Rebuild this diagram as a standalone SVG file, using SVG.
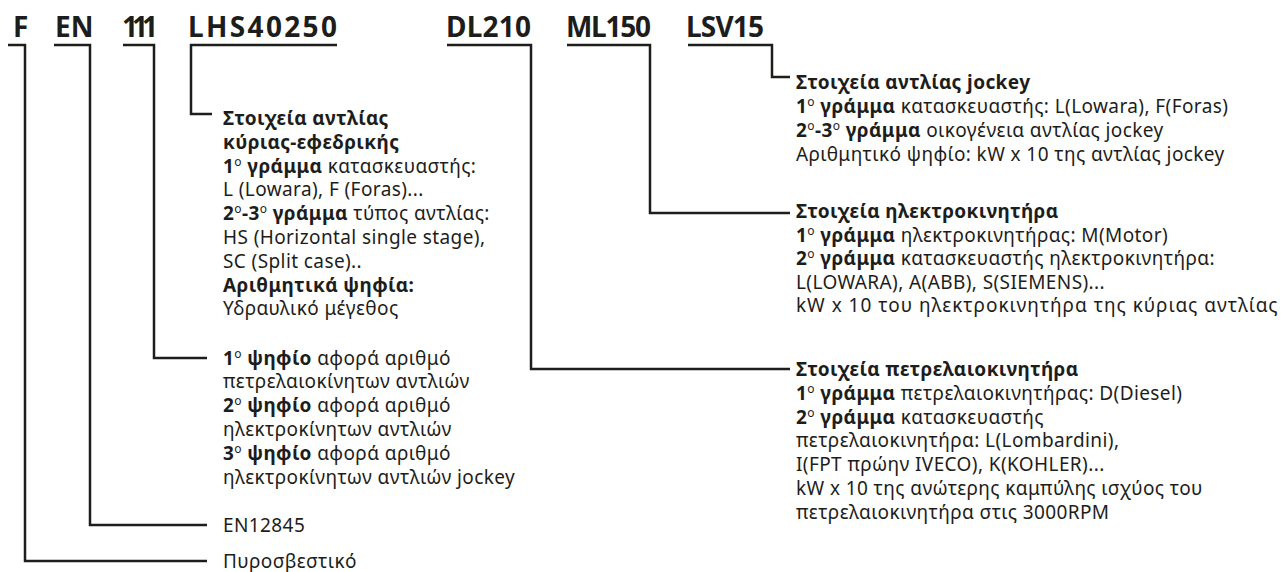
<svg xmlns="http://www.w3.org/2000/svg" width="1283" height="572" viewBox="0 0 1283 572">
<style>
text{font-family:"Noto Sans","DejaVu Sans",sans-serif;fill:#1d1d1b;font-size:19px;letter-spacing:0.4px}
.h{font-size:28px;font-weight:700;letter-spacing:0}
.b{font-weight:700}
.s{font-size:12px;font-weight:400}
.c{fill:none;stroke:#1d1d1b;stroke-width:2.5;stroke-linejoin:miter}
</style>
<rect width="1283" height="572" fill="#fff"/>
<g id="connectors">
<path class="c" d="M8,45 H25 V561 H207"/>
<path class="c" d="M54,45 H90 V525 H207"/>
<path class="c" d="M123,45 H154 V358 H207"/>
<path class="c" d="M337,45 H191 V114 H212"/>
<path class="c" d="M447,45 H531 V369 H790"/>
<path class="c" d="M567,45 H650 V213 H790"/>
<path class="c" d="M688,45 H772 V77 H790"/>
</g>
<g id="codes">
<text class="h" x="13" y="37">F</text>
<text class="h" x="55" y="37">EN</text>
<text class="h" x="122" y="37" textLength="36">111</text>
<text class="h" x="188" y="37" textLength="149">LHS40250</text>
<text class="h" x="446" y="37" textLength="85">DL210</text>
<text class="h" x="566" y="37" textLength="85">ML150</text>
<text class="h" x="686" y="37" textLength="78">LSV15</text>
</g>
<g id="jockey">
<text x="796" y="89" class="b">Στοιχεία αντλίας jockey</text>
<text x="796" y="113"><tspan class="b">1</tspan><tspan class="s" dy="-7">ο</tspan><tspan class="b" dy="7"> γράμμα</tspan> κατασκευαστής: L(Lowara), F(Foras)</text>
<text x="796" y="137"><tspan class="b">2</tspan><tspan class="s" dy="-7">ο</tspan><tspan class="b" dy="7">-3</tspan><tspan class="s" dy="-7">ο</tspan><tspan class="b" dy="7"> γράμμα</tspan> οικογένεια αντλίας jockey</text>
<text x="796" y="161">Αριθμητικό ψηφίο: kW x 10 της αντλίας jockey</text>
</g>
<g id="motor">
<text x="796" y="218" class="b">Στοιχεία ηλεκτροκινητήρα</text>
<text x="796" y="241.5"><tspan class="b">1</tspan><tspan class="s" dy="-7">ο</tspan><tspan class="b" dy="7"> γράμμα</tspan> ηλεκτροκινητήρας: M(Motor)</text>
<text x="796" y="265"><tspan class="b">2</tspan><tspan class="s" dy="-7">ο</tspan><tspan class="b" dy="7"> γράμμα</tspan> κατασκευαστής ηλεκτροκινητήρα:</text>
<text x="796" y="288.5">L(LOWARA), A(ABB), S(SIEMENS)...</text>
<text x="796" y="312" textLength="482">kW x 10 του ηλεκτροκινητήρα της κύριας αντλίας</text>
</g>
<g id="diesel">
<text x="796" y="376" class="b">Στοιχεία πετρελαιοκινητήρα</text>
<text x="796" y="399.8"><tspan class="b">1</tspan><tspan class="s" dy="-7">ο</tspan><tspan class="b" dy="7"> γράμμα</tspan> πετρελαιοκινητήρας: D(Diesel)</text>
<text x="796" y="423.6"><tspan class="b">2</tspan><tspan class="s" dy="-7">ο</tspan><tspan class="b" dy="7"> γράμμα</tspan> κατασκευαστής</text>
<text x="796" y="447.4">πετρελαιοκινητήρα: L(Lombardini),</text>
<text x="796" y="471.2">I(FPT πρώην IVECO), K(KOHLER)...</text>
<text x="796" y="495">kW x 10 της ανώτερης καμπύλης ισχύος του</text>
<text x="796" y="518.8">πετρελαιοκινητήρα στις 3000RPM</text>
</g>
<g id="pump">
<text x="223" y="125" class="b">Στοιχεία αντλίας</text>
<text x="223" y="148.8" class="b">κύριας-εφεδρικής</text>
<text x="223" y="172.6"><tspan class="b">1</tspan><tspan class="s" dy="-7">ο</tspan><tspan class="b" dy="7"> γράμμα</tspan> κατασκευαστής:</text>
<text x="223" y="196.4">L (Lowara), F (Foras)...</text>
<text x="223" y="220.2"><tspan class="b">2</tspan><tspan class="s" dy="-7">ο</tspan><tspan class="b" dy="7">-3</tspan><tspan class="s" dy="-7">ο</tspan><tspan class="b" dy="7"> γράμμα</tspan> τύπος αντλίας:</text>
<text x="223" y="244">HS (Horizontal single stage),</text>
<text x="223" y="267.8">SC (Split case)..</text>
<text x="223" y="291.6" class="b">Αριθμητικά ψηφία:</text>
<text x="223" y="315.4">Υδραυλικό μέγεθος</text>
</g>
<g id="digits">
<text x="223" y="364.5"><tspan class="b">1</tspan><tspan class="s" dy="-7">ο</tspan><tspan class="b" dy="7"> ψηφίο</tspan> αφορά αριθμό</text>
<text x="223" y="388.3">πετρελαιοκίνητων αντλιών</text>
<text x="223" y="412.1"><tspan class="b">2</tspan><tspan class="s" dy="-7">ο</tspan><tspan class="b" dy="7"> ψηφίο</tspan> αφορά αριθμό</text>
<text x="223" y="435.9">ηλεκτροκίνητων αντλιών</text>
<text x="223" y="459.7"><tspan class="b">3</tspan><tspan class="s" dy="-7">ο</tspan><tspan class="b" dy="7"> ψηφίο</tspan> αφορά αριθμό</text>
<text x="223" y="483.5">ηλεκτροκίνητων αντλιών jockey</text>
</g>
<g id="standard">
<text x="223" y="531.5">EN12845</text>
</g>
<g id="type">
<text x="223" y="567.5">Πυροσβεστικό</text>
</g>
</svg>
